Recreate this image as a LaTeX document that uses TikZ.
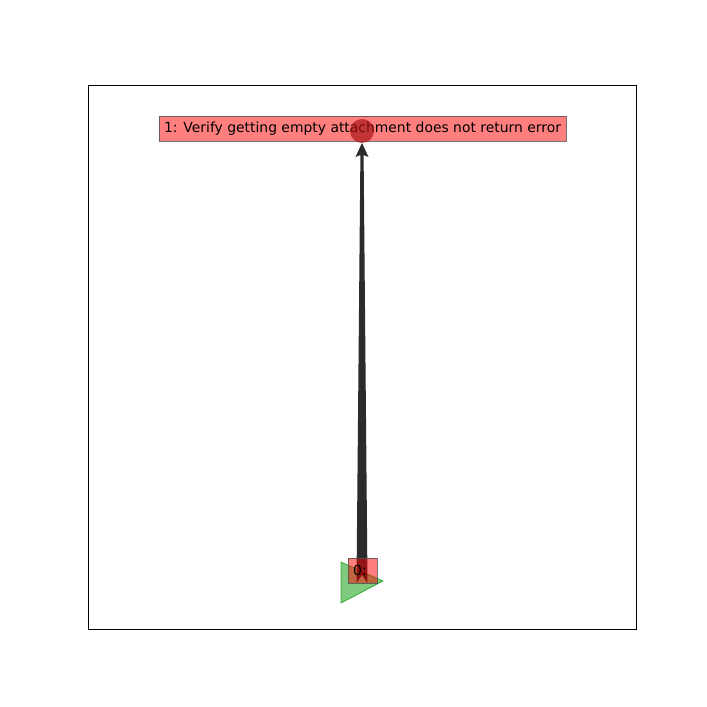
\documentclass[tikz,border=0pt]{standalone}
\usepackage{fontspec}
\setmainfont{DejaVu Sans}
\usetikzlibrary{arrows.meta, positioning, calc}
\definecolor{boxred}{RGB}{255,0,0}
\definecolor{edgegray}{RGB}{80,80,80}
\definecolor{dotred}{RGB}{170,20,20}
\definecolor{startgreen}{RGB}{0,150,0}
\definecolor{shaftdark}{RGB}{20,20,20}
\tikzset{
  labelbox/.style={rectangle, fill=boxred, fill opacity=0.5, draw=edgegray,
    draw opacity=0.8, text opacity=1, inner sep=0pt, line width=0.8pt,
    font=\fontsize{13.9}{16}\selectfont, text=black},
  enddot/.style={circle, fill=dotred, fill opacity=0.7, draw=none,
    minimum size=24pt, inner sep=0pt},
  startmark/.style={fill=startgreen, fill opacity=0.5, draw=startgreen,
    draw opacity=0.7, line width=0.8pt},
  shaft/.style={fill=shaftdark, fill opacity=0.9, draw=none}
}
\begin{document}
\begin{tikzpicture}[x=1pt, y=-1pt]
  \useasboundingbox (0,0) rectangle (707,707);
  % frame
  \draw[line width=0.8pt] (88,85) rectangle (636,629);

  % start marker (triangle)
  \coordinate (start) at (362,581);
  \fill[startmark] ($(start)+(-21,-19)$) -- ($(start)+(21,0)$)
    -- ($(start)+(-21,22)$) -- cycle;

  % end marker
  \coordinate (endpt) at (362,131);

  % tapered shaft with head
  \fill[shaft] ($(start)+(-5.5,2)$) -- ($(endpt)+(-1.6,24)$)
    -- ($(endpt)+(-6.5,26)$) -- ($(endpt)+(0,12)$) -- ($(endpt)+(6.5,26)$)
    -- ($(endpt)+(1.6,24)$) -- ($(start)+(5.5,2)$) -- ($(start)+(0,-6)$) -- cycle;

  % labels
  \node[labelbox, minimum width=29pt, minimum height=25pt, text depth=0pt]
    (n0) at (362.5,570.5) {};
  \node[font=\fontsize{13.9}{16}\selectfont] (t0) at (360,570) {0:};
  \node[labelbox, minimum width=407pt, minimum height=25pt]
    (n1) at (362.5,128.5) {1: Verify getting empty attachment does not return error};
  \node[enddot] (d1) at (endpt) {};
\end{tikzpicture}
\end{document}
